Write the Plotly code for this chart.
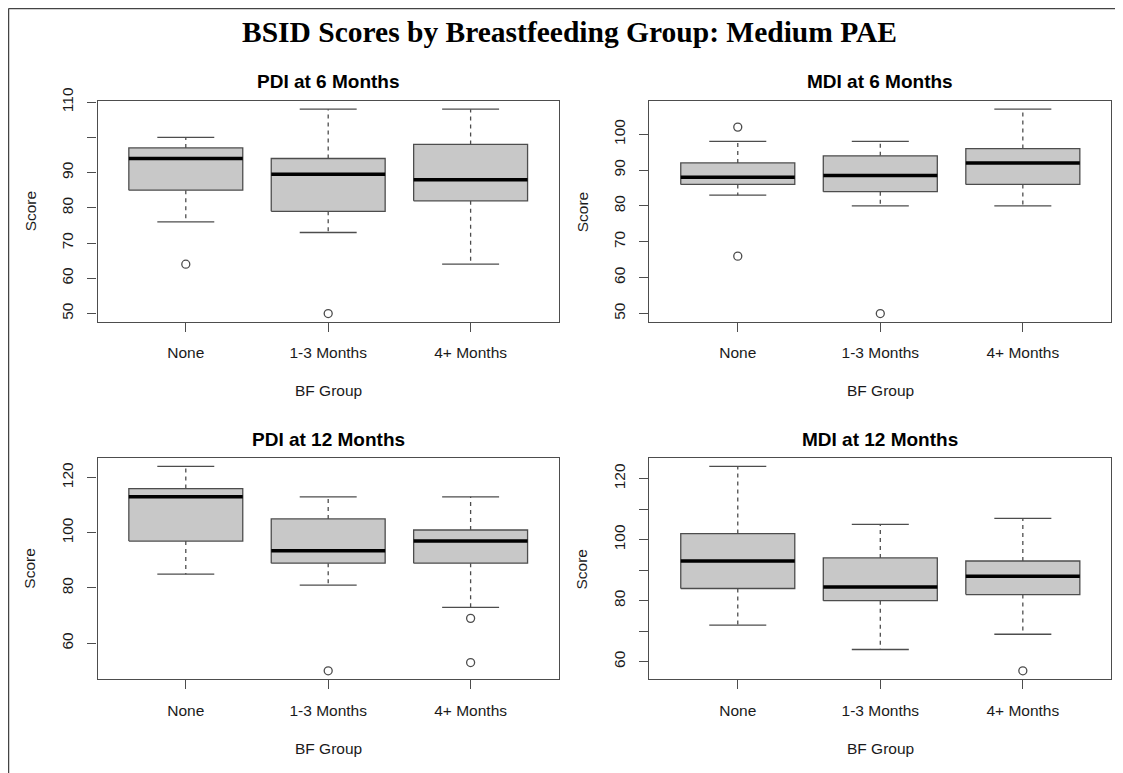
import plotly.graph_objects as go

# ---------------- data ----------------
groups = ["None", "1-3 Months", "4+ Months"]

panel_titles = ["PDI at 6 Months", "MDI at 6 Months", "PDI at 12 Months", "MDI at 12 Months"]

# per panel: lower whisker, q1, median, q3, upper whisker (one value per group)
pdi6_low = [76, 73, 64]
pdi6_q1 = [85, 79, 82]
pdi6_med = [94, 89.5, 88]
pdi6_q3 = [97, 94, 98]
pdi6_high = [100, 108, 108]
pdi6_out = [[64], [50], []]

mdi6_low = [83, 80, 80]
mdi6_q1 = [86, 84, 86]
mdi6_med = [88, 88.5, 92]
mdi6_q3 = [92, 94, 96]
mdi6_high = [98, 98, 107]
mdi6_out = [[102, 66], [50], []]

pdi12_low = [85, 81, 73]
pdi12_q1 = [97, 89, 89]
pdi12_med = [113, 93.5, 97]
pdi12_q3 = [116, 105, 101]
pdi12_high = [124, 113, 113]
pdi12_out = [[], [50], [69, 53]]

mdi12_low = [72, 64, 69]
mdi12_q1 = [84, 80, 82]
mdi12_med = [93, 84.5, 88]
mdi12_q3 = [102, 94, 93]
mdi12_high = [124, 105, 107]
mdi12_out = [[], [], [57]]

# y-axis ticks and labels (R drops overlapping labels)
pdi6_ticks = [50, 60, 70, 80, 90, 100, 110]
pdi6_ticklabels = ["50", "60", "70", "80", "90", "", "110"]
mdi6_ticks = [50, 60, 70, 80, 90, 100]
mdi6_ticklabels = ["50", "60", "70", "80", "90", "100"]
pdi12_ticks = [60, 80, 100, 120]
pdi12_ticklabels = ["60", "80", "100", "120"]
mdi12_ticks = [60, 70, 80, 90, 100, 110, 120]
mdi12_ticklabels = ["60", "", "80", "", "100", "", "120"]

main_title = "BSID Scores by Breastfeeding Group: Medium PAE"
x_title = "BF Group"
y_title = "Score"

panels = [
    (pdi6_low, pdi6_q1, pdi6_med, pdi6_q3, pdi6_high, pdi6_out, pdi6_ticks, pdi6_ticklabels),
    (mdi6_low, mdi6_q1, mdi6_med, mdi6_q3, mdi6_high, mdi6_out, mdi6_ticks, mdi6_ticklabels),
    (pdi12_low, pdi12_q1, pdi12_med, pdi12_q3, pdi12_high, pdi12_out, pdi12_ticks, pdi12_ticklabels),
    (mdi12_low, mdi12_q1, mdi12_med, mdi12_q3, mdi12_high, mdi12_out, mdi12_ticks, mdi12_ticklabels),
]

# ---------------- layout geometry ----------------
# The page body adds an 8px offset, so the figure is 8px smaller and all
# screen positions are shifted by OFF.
OFF = 8
W, H = 1123 - OFF, 773 - OFF
x_doms_px = [(97.5 - OFF, 558.9 - OFF), (649.4 - OFF, 1111.2 - OFF)]
y_doms_px = [(101 - OFF, 321.7 - OFF), (458.3 - OFF, 679 - OFF)]  # top, bottom in px

FRAME = "#4d4d4d"
FILL = "#c8c8c8"
TXT = "#1a1a1a"
SANS = "Liberation Sans, Arial, Helvetica, sans-serif"

BOXW = 0.4
CAPW = 0.2

fig = go.Figure()
layout_axes = {}
annotations = []

for i, (low, q1, med, q3, high, outs, ticks, ticklabels) in enumerate(panels):
    col = i % 2
    row = i // 2
    n = i + 1
    xa = "x" if n == 1 else f"x{n}"
    ya = "y" if n == 1 else f"y{n}"
    xs = list(range(1, len(groups) + 1))

    for j, c in enumerate(xs):
        # whiskers (dashed)
        fig.add_trace(go.Scatter(
            x=[c, c, None, c, c], y=[q3[j], high[j], None, q1[j], low[j]],
            mode="lines", line=dict(color=FRAME, width=1.3, dash="4px,4px"),
            xaxis=xa, yaxis=ya, showlegend=False, hoverinfo="skip"))
        # caps
        fig.add_trace(go.Scatter(
            x=[c - CAPW, c + CAPW, None, c - CAPW, c + CAPW],
            y=[high[j], high[j], None, low[j], low[j]],
            mode="lines", line=dict(color=FRAME, width=1.3),
            xaxis=xa, yaxis=ya, showlegend=False, hoverinfo="skip"))
        # box
        fig.add_trace(go.Scatter(
            x=[c - BOXW, c + BOXW, c + BOXW, c - BOXW, c - BOXW],
            y=[q1[j], q1[j], q3[j], q3[j], q1[j]],
            mode="lines", fill="toself", fillcolor=FILL,
            line=dict(color=FRAME, width=1.3),
            xaxis=xa, yaxis=ya, showlegend=False, hoverinfo="skip"))
        # median
        fig.add_trace(go.Scatter(
            x=[c - BOXW, c + BOXW], y=[med[j], med[j]],
            mode="lines", line=dict(color="black", width=3.5),
            xaxis=xa, yaxis=ya, showlegend=False, hoverinfo="skip"))
        # outliers
        if outs[j]:
            fig.add_trace(go.Scatter(
                x=[c] * len(outs[j]), y=outs[j], mode="markers",
                marker=dict(symbol="circle-open", size=8, color=FRAME,
                            line=dict(width=1.3, color=FRAME)),
                xaxis=xa, yaxis=ya, showlegend=False, hoverinfo="skip"))

    # data range with R-style 4% expansion
    allv = low + high + [v for o in outs for v in o]
    lo, hi = min(allv), max(allv)
    pad = (hi - lo) * 0.04
    ng = len(groups)
    xpad = ng * 0.04

    xd = x_doms_px[col]
    yd = y_doms_px[row]
    xkey = "xaxis" if n == 1 else f"xaxis{n}"
    ykey = "yaxis" if n == 1 else f"yaxis{n}"
    layout_axes[xkey] = dict(
        domain=[xd[0] / W, xd[1] / W], anchor=ya,
        range=[0.5 - xpad, ng + 0.5 + xpad],
        tickvals=xs, ticktext=groups,
        showline=True, mirror=True, linecolor=FRAME, linewidth=1.3,
        ticks="outside", ticklen=9, tickwidth=1.3, tickcolor=FRAME,
        showgrid=False, zeroline=False,
        tickfont=dict(family=SANS, size=15.5, color=TXT),
        ticklabelstandoff=8,
    )
    layout_axes[ykey] = dict(
        domain=[1 - yd[1] / H, 1 - yd[0] / H], anchor=xa,
        range=[lo - pad, hi + pad],
        tickvals=ticks, ticktext=ticklabels, tickangle=-90,
        showline=True, mirror=True, linecolor=FRAME, linewidth=1.3,
        ticks="outside", ticklen=9, tickwidth=1.3, tickcolor=FRAME,
        showgrid=False, zeroline=False,
        tickfont=dict(family=SANS, size=15.5, color=TXT),
        ticklabelstandoff=8,
    )

    cx = (xd[0] + xd[1]) / 2 / W
    # panel title
    annotations.append(dict(
        text=f"<b>{panel_titles[i]}</b>", x=cx, y=1 - (yd[0] - 19) / H,
        xref="paper", yref="paper", xanchor="center", yanchor="middle",
        showarrow=False, font=dict(family=SANS, size=19, color="black")))
    # x axis title
    annotations.append(dict(
        text=x_title, x=cx, y=1 - (yd[1] + 69) / H,
        xref="paper", yref="paper", xanchor="center", yanchor="middle",
        showarrow=False, font=dict(family=SANS, size=15.5, color=TXT)))
    # y axis title
    annotations.append(dict(
        text=y_title, x=(xd[0] - 67.5) / W, y=1 - (yd[0] + yd[1]) / 2 / H,
        xref="paper", yref="paper", xanchor="center", yanchor="middle",
        textangle=-90, showarrow=False, font=dict(family=SANS, size=15.5, color=TXT)))

annotations.append(dict(
    text=f"<b>{main_title}</b>", x=(569 - OFF) / W, y=1 - (32 - OFF) / H,
    xref="paper", yref="paper", xanchor="center", yanchor="middle",
    showarrow=False, font=dict(family="Liberation Serif, Times New Roman, serif", size=29.5, color="black")))

# outer border (top and left edges of the original device frame)
shapes = [
    dict(type="line", xref="paper", yref="paper", x0=0.5 / W, x1=1, y0=1 - 0.5 / H, y1=1 - 0.5 / H,
         line=dict(color="#444444", width=1.5)),
    dict(type="line", xref="paper", yref="paper", x0=0.5 / W, x1=0.5 / W, y0=0, y1=1 - 0.5 / H,
         line=dict(color="#444444", width=1.5)),
]

fig.update_layout(
    width=W, height=H,
    margin=dict(l=0, r=0, t=0, b=0, autoexpand=False),
    paper_bgcolor="white", plot_bgcolor="white",
    showlegend=False,
    annotations=annotations, shapes=shapes,
    **layout_axes,
)

fig.write_html("out.html")
